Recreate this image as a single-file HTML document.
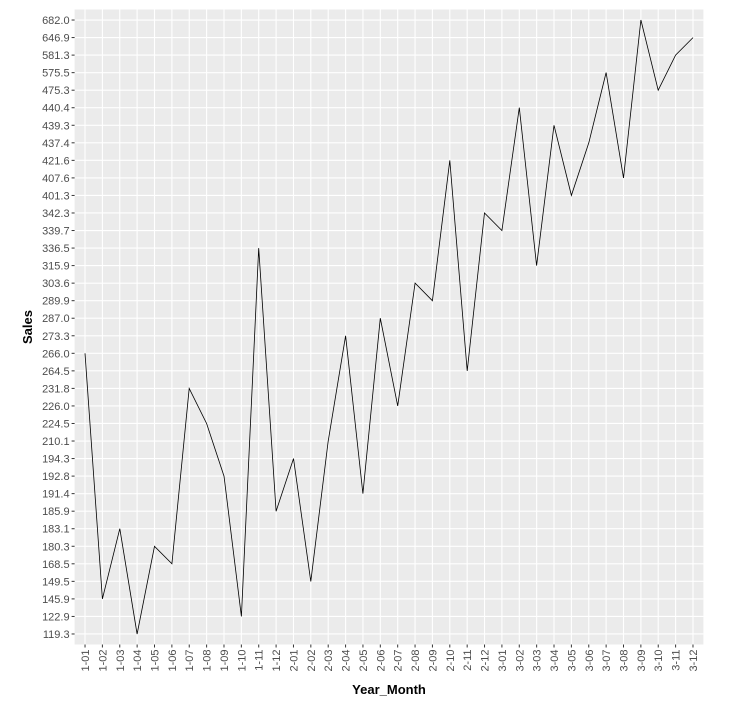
<!DOCTYPE html>
<html><head><meta charset="utf-8">
<style>
body{margin:0;background:#fff;width:738px;height:700px;overflow:hidden;font-family:"Liberation Sans",sans-serif;}
</style></head>
<body>
<svg id="chart" width="738" height="700" xmlns="http://www.w3.org/2000/svg"></svg>
<script>
const months = ["1-01","1-02","1-03","1-04","1-05","1-06","1-07","1-08","1-09","1-10","1-11","1-12","2-01","2-02","2-03","2-04","2-05","2-06","2-07","2-08","2-09","2-10","2-11","2-12","3-01","3-02","3-03","3-04","3-05","3-06","3-07","3-08","3-09","3-10","3-11","3-12"];
const sales = [266.0,145.9,183.1,119.3,180.3,168.5,231.8,224.5,192.8,122.9,336.5,185.9,194.3,149.5,210.1,273.3,191.4,287.0,226.0,303.6,289.9,421.6,264.5,342.3,339.7,440.4,315.9,439.3,401.3,437.4,575.5,407.6,682.0,475.3,581.3,646.9];

const NS="http://www.w3.org/2000/svg";
const svg=document.getElementById('chart');
function mk(t,a,p){const e=document.createElementNS(NS,t);for(const k in a)e.setAttribute(k,a[k]);(p||svg).appendChild(e);return e;}
const L=74.6,R=703.4,T=9.5,B=644.5;
const levels=[...new Set(sales)].sort((a,b)=>a-b);
const nx=months.length,ny=levels.length;
const dx=(R-L)/(nx-1+1.2), dy=(B-T)/(ny-1+1.2);
const xs=i=>L+dx*(0.6+i);
const ys=v=>B-dy*(0.6+levels.indexOf(v));

const bg=mk('rect',{x:L,y:T,width:R-L,height:B-T,fill:'#EBEBEB'});



months.forEach((m,i)=>{
  const x=xs(i);
  const g=mk('line',{x1:x,x2:x,y1:T,y2:B,stroke:'#fff','stroke-width':1.1});
  
  
  mk('line',{x1:x,x2:x,y1:B,y2:B+3,stroke:'#333','stroke-width':1});
  const t=mk('text',{x:0,y:0,transform:`translate(${x+4},${B+5}) rotate(-90)`,'text-anchor':'end','font-size':11,fill:'#4D4D4D'});
  t.textContent=m;
  
  
});
levels.forEach(v=>{
  const y=ys(v);
  const g=mk('line',{x1:L,x2:R,y1:y,y2:y,stroke:'#fff','stroke-width':1.1});
  
  
  mk('line',{x1:L-3,x2:L,y1:y,y2:y,stroke:'#333','stroke-width':1});
  const t=mk('text',{x:L-5,y:y+4,'text-anchor':'end','font-size':11,fill:'#4D4D4D'});
  t.textContent=v.toFixed(1);
  
  
});
const pts=sales.map((v,i)=>xs(i).toFixed(1)+','+ys(v).toFixed(1)).join(' ');
const line=mk('polyline',{points:pts,fill:'none',stroke:'#000','stroke-width':0.8});



const xt=mk('text',{x:(L+R)/2,y:694,'text-anchor':'middle','font-size':13,'font-weight':'bold',fill:'#000'});
xt.textContent='Year_Month';


const yt=mk('text',{x:0,y:0,transform:`translate(32,${(T+B)/2}) rotate(-90)`,'text-anchor':'middle','font-size':13,'font-weight':'bold',fill:'#000'});
yt.textContent='Sales';


</script>
</body></html>
